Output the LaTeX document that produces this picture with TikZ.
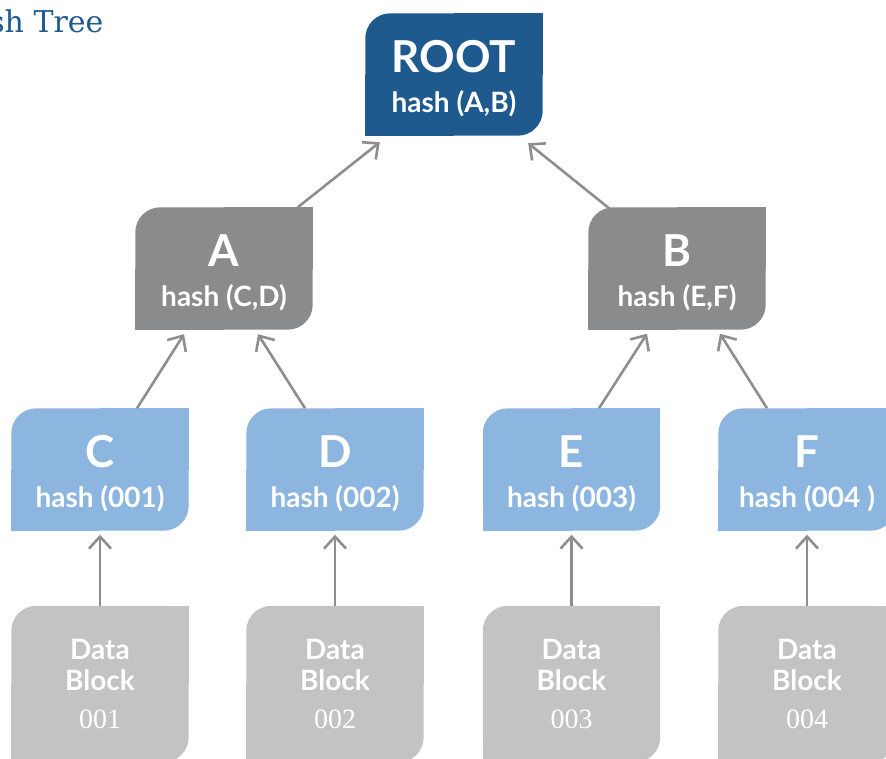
\documentclass[tikz,border=0pt]{standalone}
\usepackage{fontspec}
\setmainfont{Liberation Serif}
\setsansfont{Lato}
\newfontfamily\titlefont{DejaVu Serif}
\usetikzlibrary{calc,arrows.meta,backgrounds}

\definecolor{rootblue}{HTML}{1F5A8F}
\definecolor{midgray}{HTML}{8A8B8D}
\definecolor{leafblue}{HTML}{8CB6E0}
\definecolor{datagray}{HTML}{C3C3C3}
\definecolor{arrowgray}{HTML}{8E8E8E}

\tikzset{
  boxbase/.style={rectangle, minimum width=177pt, inner sep=0pt, text=white, align=center},
  hashbox/.style={boxbase, minimum height=122pt, text height=80pt,
    font=\sffamily\bfseries\fontsize{28}{40}\selectfont},
  datablock/.style={boxbase, minimum height=156pt, font=\sffamily\bfseries\fontsize{28}{31}\selectfont},
  hasharrow/.style={draw=arrowgray, line width=2.6pt, -{Straight Barb[length=12pt,width=22pt]}}
}
\newcommand{\bigname}[1]{{\fontsize{44}{44}\selectfont #1}}
\newcommand{\blocknum}[1]{{\rmfamily\mdseries\fontsize{28}{28}\selectfont #1}}

\begin{document}
\begin{tikzpicture}[x=1pt,y=-1pt]
  \useasboundingbox (0,0) rectangle (886,758);
  \clip (0,0) rectangle (886,758);

  \node[anchor=base east, text=rootblue, font=\titlefont\fontsize{30}{30}\selectfont] (title) at (107,32) {Hash Tree};

  % tree of hashes
  \node[hashbox] (root) at (454,74.5) {\bigname{ROOT}\\hash (A,B)};
  \node[hashbox] (A) at (224,268.5) {\bigname{A}\\hash (C,D)};
  \node[hashbox] (B) at (677,268.5) {\bigname{B}\\hash (E,F)};
  \node[hashbox] (C) at (100,469.5) {\bigname{C}\\hash (001)};
  \node[hashbox] (D) at (335,469.5) {\bigname{D}\\hash (002)};
  \node[hashbox] (E) at (571.5,469.5) {\bigname{E}\\hash (003)};
  \node[hashbox] (F) at (807,469.5) {\bigname{F}\\hash (004 )};

  % data blocks
  \foreach \i/\x in {1/100,2/335,3/571.5,4/807}{
    \node[datablock] (d\i) at (\x,684) {Data\\Block\\[7pt]\blocknum{00\i}};
  }

  \begin{scope}[on background layer]
    \foreach \n/\c in {root/rootblue, A/midgray, B/midgray, C/leafblue, D/leafblue, E/leafblue, F/leafblue,
                       d1/datagray, d2/datagray, d3/datagray, d4/datagray}{
      \fill[\c, rounded corners=25pt] (\n.south west) rectangle (\n.north east);
      \fill[\c] (\n.north) rectangle (\n.east);
      \fill[\c] (\n.west) rectangle (\n.south);
    }
  \end{scope}

  \draw[hasharrow] ($(A.north east)+(-15,0)$) -- ($(root.south west)+(14.5,6.5)$);
  \draw[hasharrow] ($(B.north west)+(22,2)$) -- ($(root.south east)+(-14.5,7.5)$);
  \draw[hasharrow] ($(C.north)+(37,0)$) -- ($(A.south)+(-40,4.5)$);
  \draw[hasharrow] ($(D.north)+(-30,0)$) -- ($(A.south)+(34,4.5)$);
  \draw[hasharrow] ($(E.north)+(27.5,0)$) -- ($(B.south)+(-30,4)$);
  \draw[hasharrow] ($(F.north)+(-40,0)$) -- ($(B.south)+(43,4)$);
  \draw[hasharrow] (d1) -- ($(C.south)+(0,4)$);
  \draw[hasharrow] (d2) -- ($(D.south)+(0,4)$);
  \draw[hasharrow] (d3) -- ($(E.south)+(0,4)$);
  \draw[hasharrow] (d4) -- ($(F.south)+(0,4)$);
\end{tikzpicture}
\end{document}
